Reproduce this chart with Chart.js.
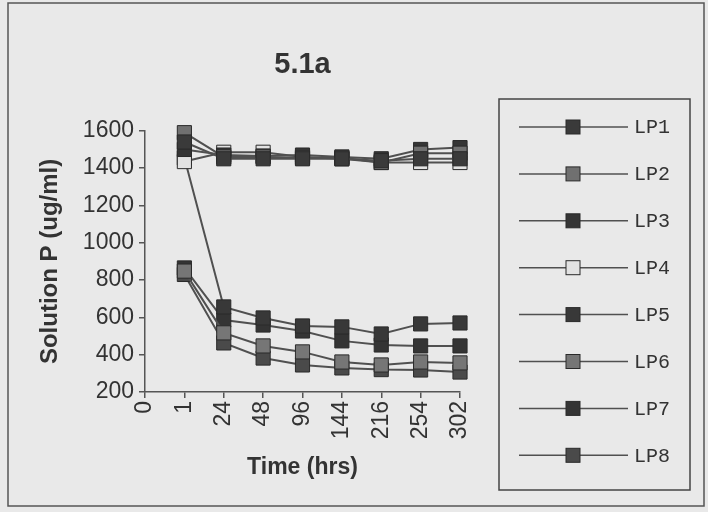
<!DOCTYPE html>
<html>
<head>
<meta charset="utf-8">
<title>5.1a</title>
<script src="https://cdn.jsdelivr.net/npm/chart.js@4"></script>
<style>
html,body{margin:0;padding:0;background:#e9e9e9;}
#wrap{width:708px;height:512px;position:relative;}
</style>
</head>
<body>
<div id="wrap"><canvas id="chart" width="708" height="512"></canvas></div>
<script>

// ================================
// Data
// ================================

const timeLabels = ["0","1","24","48","96","144","216","254","302"];

const lp1 = [null,1540,1450,1450,1450,1450,1440,1450,1450];
const lp2 = [null,1590,1460,1460,1455,1455,1430,1480,1480];
const lp3 = [null,1500,1470,1465,1470,1460,1450,1500,1510];
const lp4 = [null,1435,1485,1485,1460,1450,1430,1430,1430];
const lp5 = [null,1455,656,597,554,549,511,565,570];
const lp6 = [null,848,517,447,415,361,345,361,356];
const lp7 = [null,865,586,559,527,474,452,447,447];
const lp8 = [null,830,463,382,345,329,320,318,307];

const seriesNames = ["LP1","LP2","LP3","LP4","LP5","LP6","LP7","LP8"];
const seriesValues = [lp1,lp2,lp3,lp4,lp5,lp6,lp7,lp8];
const markerFill = ["#3a3a3a","#707070","#353535","#e2e2e2","#383838","#767676","#343434","#4a4a4a"];

const yTicks = {min:200,max:1600,step:200};

// ================================
// Style
// ================================

const ink = "#333333";
const lineInk = "#505050";
const sans = "'Liberation Sans', Arial";

const datasets = seriesValues.map(function(vals,i){
    return {
        label:seriesNames[i],
        data:vals,
        borderColor:lineInk,
        borderWidth:2,
        pointStyle:"rect",
        pointRadius:10,
        pointBackgroundColor:markerFill[i],
        pointBorderColor:"#2a2a2a",
        pointBorderWidth:1,
        tension:0,
        clip:false
    };
});

// ================================
// Page frame + legend box
// ================================

const framePlugin = {
    id:"frame",
    beforeDraw(chart){
        const ctx = chart.ctx;
        ctx.save();
        ctx.fillStyle = "#e9e9e9";
        ctx.fillRect(0,0,chart.width,chart.height);
        ctx.strokeStyle = "#555";
        ctx.lineWidth = 1.5;
        ctx.strokeRect(8,3,696,503);
        ctx.restore();
    },
    afterDraw(chart){
        const ctx = chart.ctx;
        ctx.save();
        ctx.strokeStyle = "#444";
        ctx.lineWidth = 1.5;
        ctx.strokeRect(499,99,191,391);
        chart.data.datasets.forEach(function(ds,i){
            const y = 127 + i*46.9;
            ctx.strokeStyle = ds.borderColor;
            ctx.lineWidth = 1.5;
            ctx.beginPath();
            ctx.moveTo(519,y);
            ctx.lineTo(628,y);
            ctx.stroke();
            ctx.fillStyle = ds.pointBackgroundColor;
            ctx.fillRect(566,y-7,14,14);
            ctx.strokeStyle = ds.pointBorderColor;
            ctx.lineWidth = 1;
            ctx.strokeRect(566,y-7,14,14);
            ctx.fillStyle = ink;
            ctx.font = "20px 'Liberation Mono', monospace";
            ctx.textBaseline = "middle";
            ctx.fillText(ds.label,634,y+1);
        });
        ctx.restore();
    }
};

// ================================
// Chart
// ================================

new Chart(document.getElementById("chart"),{
    type:"line",
    data:{
        labels:timeLabels,
        datasets:datasets
    },
    options:{
        responsive:false,
        animation:false,
        layout:{padding:{left:20,right:248,top:0,bottom:20}},
        plugins:{
            legend:{display:false},
            tooltip:{enabled:false},
            title:{
                display:true,
                text:"5.1a",
                fullSize:false,
                color:ink,
                font:{family:sans,size:29,weight:"bold"},
                padding:{top:48,bottom:48}
            }
        },
        scales:{
            x:{
                type:"category",
                offset:false,
                afterFit(s){ s.height = 100; },
                grid:{display:true,drawOnChartArea:false,tickLength:6,color:"#555",lineWidth:1.5},
                border:{color:"#555",width:1.5},
                ticks:{
                    color:ink,
                    minRotation:90,
                    maxRotation:90,
                    autoSkip:false,
                    padding:3,
                    font:{family:sans,size:23}
                },
                title:{
                    display:true,
                    text:"Time (hrs)",
                    color:ink,
                    font:{family:sans,size:23,weight:"bold"},
                    padding:{top:0,bottom:11}
                }
            },
            y:{
                min:yTicks.min,
                max:yTicks.max,
                afterFit(s){ s.width = 125; },
                grid:{display:true,drawOnChartArea:false,tickLength:6,color:"#555",lineWidth:1.5},
                border:{color:"#555",width:1.5},
                ticks:{
                    stepSize:yTicks.step,
                    color:ink,
                    padding:5,
                    font:{family:sans,size:23},
                    callback:function(v){ return String(v); }
                },
                title:{
                    display:true,
                    text:"Solution P (ug/ml)",
                    color:ink,
                    font:{family:sans,size:24,weight:"bold"},
                    padding:{top:16,bottom:0}
                }
            }
        }
    },
    plugins:[framePlugin]
});

</script>
</body>
</html>
